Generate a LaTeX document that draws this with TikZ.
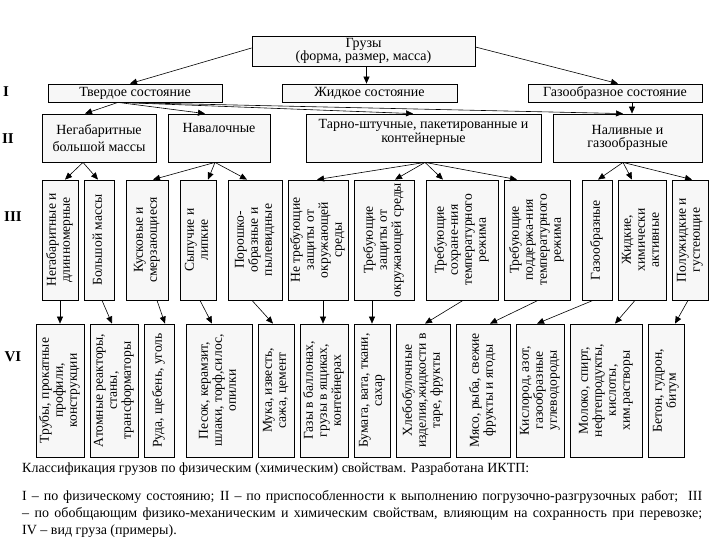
\documentclass[tikz,border=0pt]{standalone}
\usepackage{fontspec}
\setmainfont{Liberation Serif}
\usetikzlibrary{arrows.meta}
\definecolor{boxfill}{RGB}{247,247,247}
\tikzset{
  bx/.style={draw, fill=boxfill, line width=0.8pt, inner sep=1pt, align=center,
    font=\fontsize{14}{13.5}\selectfont},
  arr/.style={-{Triangle[length=7pt,width=6pt]}, line width=0.6pt},
  roman/.style={font=\fontsize{15}{15}\selectfont\bfseries, inner sep=0pt},
  captext/.style={font=\fontsize{14}{17}\selectfont, inner sep=0pt, anchor=north west},
}
\newcommand\HBx[6]{\node[bx, minimum width={(#4-#2)*1pt}, minimum height={(#5-#3)*1pt}] (#1) at ({(#2+#4)/2},{(#3+#5)/2}) {#6};}
\newcommand\VBx[6]{\node[bx, minimum width={(#4-#2)*1pt}, minimum height={(#5-#3)*1pt}] (#1) at ({(#2+#4)/2},{(#3+#5)/2}) {\fontsize{13.6}{14}\selectfont\rotatebox{90}{\begin{tabular}{@{}c@{}}#6\end{tabular}}};}
\begin{document}
\begin{tikzpicture}[x=1pt,y=-1pt]
\fill[white] (0,0) rectangle (720,540);
\useasboundingbox (0,0) rectangle (720,540);
% top
\HBx{g}{252}{36}{475}{66}{Грузы\\(форма, размер, масса)}
% level I
\HBx{t1}{48}{84}{222}{102}{Твердое состояние}
\HBx{t2}{282}{84}{457}{102}{Жидкое состояние}
\HBx{t3}{528}{84}{702}{102}{Газообразное состояние}
% level II
\HBx{n1}{42}{114}{156}{162}{Негабаритные\\[3pt]большой массы}
\HBx{n2}{168}{114}{270}{162}{Навалочные\\[6pt]}
\HBx{n3}{306}{114}{541}{162}{Тарно-штучные, пакетированные и\\контейнерные\\[1pt]}
\HBx{n4}{553}{114}{702}{162}{Наливные и\\газообразные}
% level III
\VBx{b1}{42}{180}{78}{300}{Негабаритные и\\длинномерные}
\VBx{b2}{84}{180}{114}{300}{Большой массы}
\VBx{b3}{126}{180}{168}{300}{Кусковые и\\смерзающиеся}
\VBx{b4}{180}{180}{216}{300}{Сыпучие и\\липкие}
\VBx{b5}{228}{180}{282}{300}{Порошко-\\образные и\\пылевидные}
\VBx{b6}{288}{180}{348}{300}{Не требующие\\защиты от\\окружающей\\среды}
\VBx{b7}{354}{180}{414}{300}{Требующие\\защиты от\\окружающей среды}
\VBx{b8}{426}{180}{498}{300}{Требующие\\сохране-ния\\температурного\\режима}
\VBx{b9}{504}{180}{570}{300}{Требующие\\поддержа-ния\\температурного\\режима}
\VBx{b10}{582}{180}{612}{300}{Газообразные}
\VBx{b11}{618}{180}{666}{300}{Жидкие,\\химически\\активные}
\VBx{b12}{672}{180}{708}{300}{Полужидкие и\\густеющие}
% level VI
\VBx{v1}{36}{324}{84}{457}{Трубы, прокатные\\профили,\\конструкции}
\VBx{v2}{90}{324}{138}{457}{Атомные реакторы,\\станы,\\трансформаторы}
\VBx{v3}{144}{324}{174}{457}{Руда, щебень, уголь}
\VBx{v4}{186}{324}{252}{457}{Песок, керамзит,\\шлаки, торф,силос,\\опилки}
\VBx{v5}{258}{324}{294}{457}{Мука, известь,\\сажа, цемент}
\VBx{v6}{300}{324}{348}{457}{Газы в баллонах,\\грузы в ящиках,\\контейнерах}
\VBx{v7}{354}{324}{390}{457}{Бумага, вата, ткани,\\сахар}
\VBx{v8}{396}{324}{450}{457}{Хлебобулочные\\изделия,жидкости в\\таре, фрукты}
\VBx{v9}{456}{324}{510}{457}{Мясо, рыба, свежие\\фрукты и ягоды}
\VBx{v10}{516}{324}{564}{457}{Кислород, азот,\\газообразные\\углеводороды}
\VBx{v11}{570}{324}{642}{457}{Молоко, спирт,\\нефтепродукты,\\кислоты,\\хим.растворы}
\VBx{v12}{648}{324}{684}{457}{Бетон, гудрон,\\битум}
% roman numerals
\node[roman] (r1) at (6,92) {I};
\node[roman] (r2) at (8,139) {II};
\node[roman] (r3) at (13,217) {III};
\node[roman] (r4) at (13,357) {VI};
% arrows top -> I
\draw[arr] ([yshift=3pt]g.west) -- ([xshift=-5pt]t1.north);
\draw[arr] ([xshift=-3pt]t2.north |- g.south) -- ([xshift=-3pt]t2.north);
\draw[arr] ([yshift=4pt]g.east) -- ([xshift=3pt]t3.north);
% I -> II
\draw[arr] ([xshift=-17pt]t1.south) -- ([xshift=-14pt]n1.north);
\draw[arr] ([xshift=-17pt]t1.south) -- ([xshift=-14pt]n2.north);
\draw[arr] ([xshift=-17pt]t1.south) -- ([xshift=-10.5pt]n3.north);
\draw[arr] ([xshift=-17pt]t1.south) -- ([xshift=-4.5pt]n4.north);
\draw[arr] ([xshift=17pt]t3.south) -- ([xshift=4.5pt]n4.north);
% II -> III
\draw[arr] ([xshift=-16pt]n1.south) -- ([xshift=5pt]b1.north);
\draw[arr] ([xshift=-16pt]n1.south) -- ([xshift=-1pt]b2.north);
\draw[arr] ([xshift=-4pt]n2.south) -- ([xshift=6pt]b3.north);
\draw[arr] ([xshift=-4pt]n2.south) -- ([xshift=10pt]b4.north);
\draw[arr] ([xshift=-4pt]n2.south) -- ([xshift=-8pt]b5.north);
\draw[arr] ([xshift=1.5pt]n3.south) -- ([xshift=-1pt]b6.north);
\draw[arr] ([xshift=1.5pt]n3.south) -- ([xshift=11pt]b7.north);
\draw[arr] ([xshift=1.5pt]n3.south) -- ([xshift=-19pt]b8.north);
\draw[arr] ([xshift=1.5pt]n3.south) -- ([xshift=-20pt]b9.north);
\draw[arr] ([xshift=-4.5pt]n4.south) -- ([xshift=1pt]b10.north);
\draw[arr] ([xshift=-4.5pt]n4.south) -- ([xshift=-10pt]b11.north);
\draw[arr] ([xshift=-4.5pt]n4.south) -- ([xshift=2pt]b12.north);
% III -> VI
\draw[arr] (b1.south) -- (v1.north);
\draw[arr] ([xshift=3pt]b2.south) -- ([xshift=-2pt]v2.north);
\draw[arr] ([xshift=10pt]b3.south) -- ([xshift=6pt]v3.north);
\draw[arr] ([xshift=2pt]b4.south) -- ([xshift=-7pt]v4.north);
\draw[arr] ([xshift=-3pt]b5.south) -- ([xshift=-3pt]v5.north);
\draw[arr] ([xshift=-1pt]v6.north |- b6.south) -- ([xshift=-1pt]v6.north);
\draw[arr] (v7.north |- b7.south) -- (v7.north);
\draw[arr] ([xshift=1pt]b8.south) -- ([xshift=2pt]v8.north);
\draw[arr] ([xshift=1pt]b9.south) -- ([xshift=7pt]v9.north);
\draw[arr] ([xshift=-4pt]b10.south) -- ([xshift=-3pt]v10.north);
\draw[arr] ([xshift=-7pt]b11.south) -- ([xshift=9pt]v11.north);
\draw[arr] ([xshift=-2pt]b12.south) -- ([xshift=9pt]v12.north);
% caption
\node[captext] (c1) at (22,462) {Классификация грузов по физическим (химическим) свойствам. Разработана ИКТП:};
\node[captext, text width=680pt, align=justify] (c2) at (22,490) {I – по физическому состоянию; II – по приспособленности к выполнению погрузочно-разгрузочных работ;\ \ III\linebreak – по обобщающим физико-механическим и химическим свойствам, влияющим на сохранность при перевозке;\linebreak IV – вид груза (примеры).};
\end{tikzpicture}
\end{document}
